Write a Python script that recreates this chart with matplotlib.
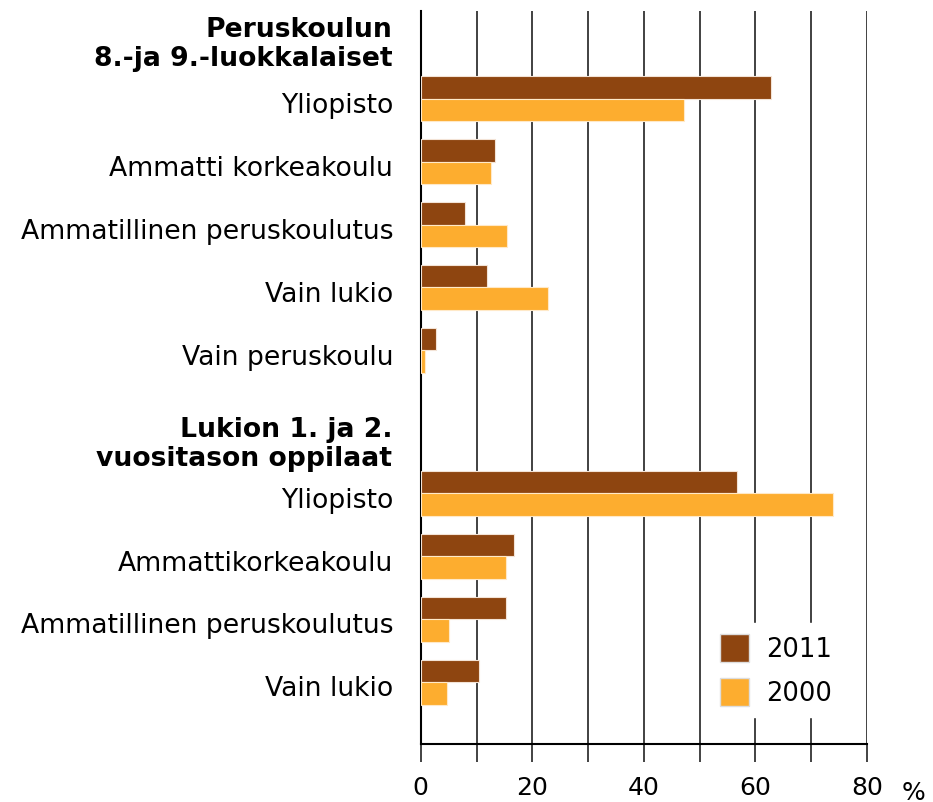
import matplotlib.pyplot as plt
import matplotlib.transforms as mtransforms
from matplotlib.patches import Patch

# ryhmä 1: peruskoulun 8.- ja 9.-luokkalaiset
kat1 = ['Yliopisto', 'Ammatti korkeakoulu', 'Ammatillinen peruskoulutus',
        'Vain lukio', 'Vain peruskoulu']
v2011_1 = [62.9, 13.3, 7.9, 11.8, 2.8]
v2000_1 = [47.2, 12.6, 15.5, 22.9, 0.8]

# ryhmä 2: lukion 1. ja 2. vuositason oppilaat
kat2 = ['Yliopisto', 'Ammattikorkeakoulu', 'Ammatillinen peruskoulutus',
        'Vain lukio']
v2011_2 = [56.8, 16.7, 15.2, 10.5]
v2000_2 = [74.0, 15.2, 5.1, 4.7]

otsikot = ['Peruskoulun\n8.-ja 9.-luokkalaiset',
           'Lukion 1. ja 2.\nvuositason oppilaat']

c2011 = '#8E4510'
c2000 = '#FDAD2F'

y1 = [0, 1, 2, 3, 4]
y2 = [6.27, 7.27, 8.27, 9.27]
ypos = y1 + y2
kat = kat1 + kat2
v2011 = v2011_1 + v2011_2
v2000 = v2000_1 + v2000_2

fig = plt.figure(figsize=(9.33, 8.03), dpi=100)
ax = fig.add_axes([0.451, 0.0722, 0.478, 0.9128])

h = 0.36
ax.barh([y - h / 2 for y in ypos], v2011, height=h, color=c2011,
        edgecolor='#f3e3d6', linewidth=0.8, zorder=3)
ax.barh([y + h / 2 for y in ypos], v2000, height=h, color=c2000,
        edgecolor='#ffe9c8', linewidth=0.8, zorder=3)

ax.set_xlim(0, 80)
ax.set_ylim(10.25, -1.39)

ax.set_xticks(range(0, 81, 10))
ax.set_xticklabels(['0', '', '20', '', '40', '', '60', '', '80'], fontsize=18)
ax.tick_params(axis='x', length=13, width=1.2, pad=9, color='#222222')
ax.set_yticks([y + 0.05 for y in ypos])
ax.set_yticklabels(kat, fontsize=19.2)
ax.tick_params(axis='y', length=0, pad=20)

ax.grid(axis='x', color='#333333', linewidth=1.3, zorder=1)
for s in ['top', 'right']:
    ax.spines[s].set_visible(False)
ax.spines['left'].set_linewidth(1.5)
ax.spines['bottom'].set_linewidth(1.5)

trans = mtransforms.blended_transform_factory(ax.transAxes, ax.transData)
ax.text(-0.064, -0.88, otsikot[0], transform=trans, ha='right', va='center',
        fontsize=19.2, fontweight='bold', linespacing=1.15)
ax.text(-0.064, 5.48, otsikot[1], transform=trans, ha='right', va='center',
        fontsize=19.2, fontweight='bold', linespacing=1.15)

ax.text(1.105, -0.065, '%', transform=ax.transAxes, ha='center', va='center',
        fontsize=18)

handles = [Patch(facecolor=c2011, edgecolor='#dddddd', label='2011'),
           Patch(facecolor=c2000, edgecolor='#dddddd', label='2000')]
leg = ax.legend(handles=handles, loc='lower right', bbox_to_anchor=(0.975, 0.02),
                fontsize=18.5, frameon=True, handlelength=1.1, handleheight=1.3,
                handletextpad=0.7, labelspacing=0.6, borderpad=0.4)
leg.get_frame().set_edgecolor('white')
leg.get_frame().set_facecolor('white')
leg.get_frame().set_alpha(1)
leg.set_zorder(5)

fig.savefig('out.png', dpi=100)
